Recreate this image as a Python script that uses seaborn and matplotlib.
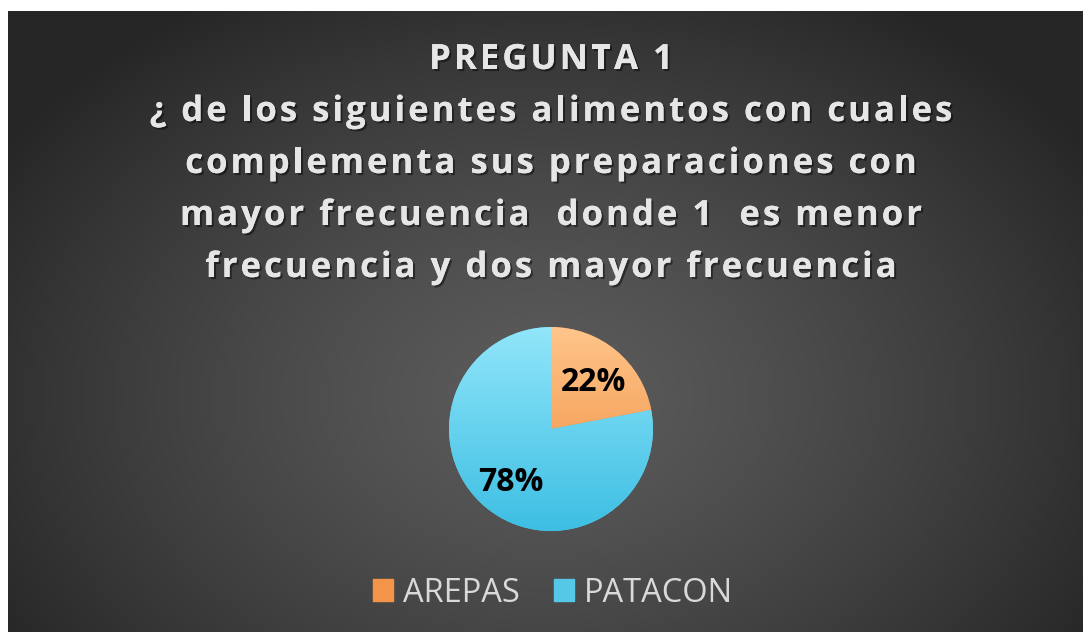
import numpy as np
import matplotlib
matplotlib.use("Agg")
import matplotlib.pyplot as plt
import seaborn as sns
from matplotlib.patches import Patch
import matplotlib.patheffects as pe
from matplotlib.colors import LinearSegmentedColormap
from matplotlib.font_manager import FontProperties, findfont, get_font

categories = ["AREPAS", "PATACON"]
values = [22, 78]
colors = ["#F69C50", "#60CFEC"]
title_lines = ["PREGUNTA 1",
               "¿ de los siguientes alimentos con cuales",
               "complementa sus preparaciones con",
               "mayor frecuencia  donde 1  es menor",
               "frecuencia y dos mayor frecuencia"]

sns.set_theme(style="white")
plt.rcParams['font.family'] = ['Open Sans', 'DejaVu Sans']

W, H = 1083, 632
fig = plt.figure(figsize=(W/100, H/100), dpi=100)
fig.patch.set_facecolor("white")

# background with radial gradient
x0, y0top = 8, 11
bg = fig.add_axes([x0/W, 0, 1 - x0/W, (H - y0top)/H])
bg.set_axis_off()
ny, nx = 300, 540
yy, xx = np.mgrid[0:ny, 0:nx]
cx, cy = nx*0.5, ny*0.62
r = np.sqrt(((xx-cx)/(nx*0.6))**2 + ((yy-cy)/(ny*0.75))**2)
r = np.clip(r, 0, 1)
val = 0.36 - 0.21*r**1.3
img = np.dstack([val, val, val])
bg.imshow(img, aspect='auto', extent=[0, 1, 0, 1], origin='upper')
bg.set_xlim(0, 1); bg.set_ylim(0, 1)

# pie
cxp, cyp, rad = 551, 429, 104
ax = fig.add_axes([(cxp-rad)/W, (H-cyp-rad)/H, 2*rad/W, 2*rad/H])
wedges, texts, autotexts = ax.pie(values, colors=colors, startangle=90, counterclock=False,
       autopct='%1.0f%%', pctdistance=0.6,
       wedgeprops=dict(edgecolor="none", linewidth=0),
       textprops=dict(color="black", fontsize=23, fontweight="bold"))
grads = [("#FFC68C", "#EE8836"), ("#92E6FA", "#3CBEE3")]
grad = np.linspace(0, 1, 256).reshape(-1, 1)
for w, (c1, c2) in zip(wedges, grads):
    cmap = LinearSegmentedColormap.from_list("g", [c1, c2])
    im = ax.imshow(grad, cmap=cmap, extent=[-1.02, 1.02, -1.02, 1.02], origin='upper',
                   aspect='auto', zorder=w.get_zorder()+0.1)
    im.set_clip_path(w)
for t in autotexts:
    t.set_zorder(5)
autotexts[0].set_position((0.42, 0.46))
autotexts[1].set_position((-0.39, -0.52))
ax.set_aspect('equal')
ax.set_xlim(-1.02, 1.02); ax.set_ylim(-1.02, 1.02)
ax.set_axis_off()

# title with letter spacing
tsize = 25
tprop = FontProperties(family='Open Sans', weight='bold', size=tsize)
font = get_font(findfont(tprop))
font.set_size(tsize, 100)
spacing = 3.0
shadow = [pe.withSimplePatchShadow(offset=(1.5, -1.5), shadow_rgbFace='black', alpha=0.45), pe.Normal()]
ys = [60, 112, 164, 216, 268]
for line, y in zip(title_lines, ys):
    adv = []
    for ch in line:
        g = font.load_char(ord(ch))
        adv.append(g.linearHoriAdvance / 65536)
    total = sum(adv) + spacing*(len(line)-1)
    xpos = 551 - total/2
    for ch, a in zip(line, adv):
        if ch != ' ':
            fig.text(xpos/W, 1 - y/H, ch, ha='left', va='center', color="#e6e6e6",
                     fontproperties=tprop, path_effects=shadow)
        xpos += a + spacing

# legend
handles = [Patch(facecolor=c, edgecolor=c) for c in ["#F4944A", "#55C8E8"]]
leg = fig.legend(handles, categories, loc='center', bbox_to_anchor=(553/W, 1 - 593/H),
                 ncol=2, frameon=False, fontsize=23.5, handlelength=0.62, handleheight=0.62,
                 handletextpad=0.3, columnspacing=1.05, labelcolor="#d9d9d9")

fig.savefig("out.png", dpi=100, facecolor=fig.get_facecolor())
